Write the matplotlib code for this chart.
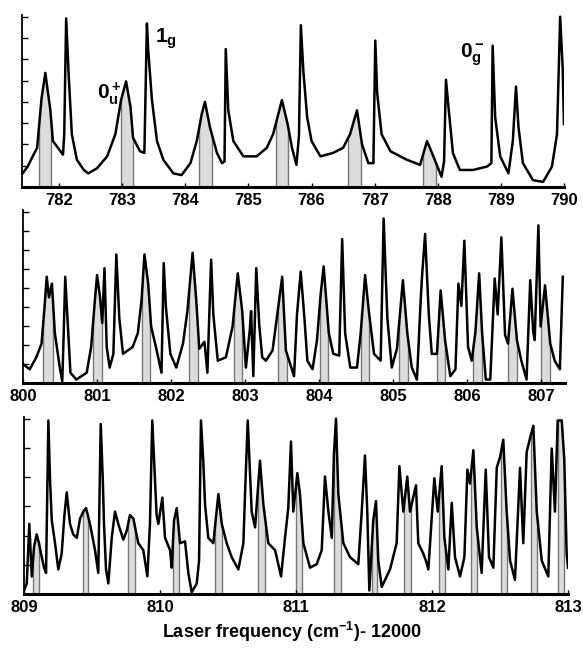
import matplotlib
matplotlib.use("Agg")
import matplotlib.pyplot as plt

plt.rcParams['font.family'] = ['Liberation Sans', 'DejaVu Sans']
plt.rcParams['font.weight'] = 'bold'
plt.rcParams['mathtext.fontset'] = 'custom'
plt.rcParams['mathtext.rm'] = 'Liberation Sans:bold'
plt.rcParams['mathtext.it'] = 'Liberation Sans:bold'
plt.rcParams['mathtext.bf'] = 'Liberation Sans:bold'

# --- panneau 1 : 781.4 - 790 ---
x1 = [781.42, 781.50, 781.58, 781.65, 781.72, 781.78, 781.86, 781.90, 781.98, 782.06,
      782.08, 782.11, 782.15, 782.20, 782.28, 782.39, 782.46, 782.60, 782.76, 782.89,
      782.98, 783.06, 783.13, 783.17, 783.28, 783.35, 783.39, 783.41, 783.47, 783.55,
      783.65, 783.81, 783.94, 784.08, 784.18, 784.26, 784.31, 784.39, 784.50, 784.58,
      784.62, 784.64, 784.68, 784.76, 784.92, 785.13, 785.29, 785.39, 785.53, 785.62,
      785.69, 785.76, 785.80, 785.83, 785.87, 785.93, 786.00, 786.14, 786.34, 786.50,
      786.61, 786.72, 786.80, 786.90, 786.98, 787.01, 787.04, 787.11, 787.25, 787.51,
      787.72, 787.83, 787.93, 788.06, 788.10, 788.13, 788.17, 788.24, 788.35, 788.56,
      788.78, 788.85, 788.87, 788.91, 788.99, 789.12, 789.19, 789.24, 789.28, 789.35,
      789.51, 789.67, 789.81, 789.89, 789.94, 789.98, 790.00]
y1 = [8, 12, 18, 23, 52, 67, 45, 27, 23, 19,
      31, 99, 66, 31, 16, 10, 8, 11, 18, 31,
      51, 62, 47, 29, 21, 20, 96, 81, 51, 27,
      16, 8, 7, 14, 27, 43, 50, 35, 20, 14,
      15, 81, 45, 27, 18, 18, 23, 31, 51, 37,
      23, 13, 30, 95, 68, 41, 27, 18, 20, 23,
      31, 45, 25, 14, 14, 86, 55, 31, 21, 16,
      13, 27, 18, 6, 15, 63, 47, 20, 10, 10,
      12, 14, 83, 41, 18, 8, 27, 59, 35, 14,
      4, 3, 12, 31, 100, 70, 37]
bandes1 = [(781.68, 781.87), (782.98, 783.17), (784.22, 784.42),
           (785.43, 785.63), (786.58, 786.79), (787.77, 787.97)]
ticks1 = [782, 783, 784, 785, 786, 787, 788, 789, 790]

# --- panneau 2 : 800 - 807.3 ---
x2 = [800.00, 800.09, 800.18, 800.25, 800.29, 800.32, 800.35, 800.39, 800.43, 800.50,
      800.53, 800.55, 800.57, 800.60, 800.64, 800.72, 800.86, 800.92, 800.97, 801.00,
      801.04, 801.07, 801.10, 801.13, 801.17, 801.22, 801.26, 801.30, 801.35, 801.48,
      801.55, 801.60, 801.64, 801.69, 801.73, 801.80, 801.87, 801.90, 801.93, 801.99,
      802.07, 802.16, 802.22, 802.29, 802.34, 802.38, 802.45, 802.49, 802.54, 802.57,
      802.63, 802.74, 802.83, 802.90, 802.96, 803.01, 803.06, 803.08, 803.11, 803.15,
      803.19, 803.23, 803.28, 803.37, 803.44, 803.50, 803.55, 803.66, 803.70, 803.75,
      803.80, 803.84, 803.91, 803.97, 804.02, 804.06, 804.13, 804.19, 804.27, 804.31,
      804.35, 804.42, 804.51, 804.56, 804.62, 804.67, 804.74, 804.83, 804.87, 804.92,
      804.98, 805.05, 805.13, 805.19, 805.25, 805.32, 805.37, 805.39, 805.43, 805.48,
      805.52, 805.59, 805.64, 805.70, 805.77, 805.84, 805.88, 805.92, 805.96, 806.01,
      806.06, 806.11, 806.16, 806.20, 806.25, 806.31, 806.37, 806.41, 806.46, 806.51,
      806.55, 806.61, 806.67, 806.73, 806.80, 806.85, 806.89, 806.91, 806.96, 806.99,
      807.05, 807.12, 807.18, 807.25, 807.29]
y2 = [11, 8, 15, 23, 44, 62, 50, 58, 29, 8,
      1, 30, 62, 38, 6, 2, 6, 21, 48, 63,
      50, 35, 67, 21, 9, 17, 75, 38, 17, 21,
      29, 48, 75, 58, 33, 20, 6, 70, 44, 17,
      9, 23, 42, 76, 48, 20, 24, 6, 72, 40,
      13, 15, 33, 64, 42, 9, 30, 42, 4, 67,
      34, 15, 13, 19, 42, 62, 19, 4, 40, 65,
      38, 13, 8, 25, 52, 68, 29, 17, 16, 84,
      29, 9, 9, 29, 63, 42, 17, 13, 96, 38,
      9, 20, 60, 29, 9, 2, 48, 63, 87, 40,
      17, 17, 54, 25, 4, 8, 58, 45, 83, 21,
      13, 30, 64, 29, 2, 2, 61, 40, 85, 28,
      23, 55, 25, 13, 2, 60, 30, 25, 92, 33,
      57, 23, 13, 8, 62]
bandes2 = [(800.27, 800.40), (800.95, 801.06), (801.60, 801.71), (802.24, 802.36),
           (802.85, 802.96), (803.44, 803.56), (804.01, 804.12), (804.56, 804.67),
           (805.08, 805.20), (805.59, 805.70), (806.08, 806.20), (806.55, 806.67),
           (807.00, 807.12)]
ticks2 = [800, 801, 802, 803, 804, 805, 806, 807]

# --- panneau 3 : 809 - 813 ---
x3 = [809.000, 809.020, 809.039, 809.057, 809.074, 809.093, 809.110, 809.125, 809.147, 809.162,
      809.179, 809.191, 809.204, 809.228, 809.252, 809.277, 809.296, 809.314, 809.338, 809.362,
      809.388, 809.412, 809.436, 809.456, 809.485, 809.522, 809.546, 809.564, 809.579, 809.588,
      809.603, 809.620, 809.645, 809.669, 809.693, 809.730, 809.755, 809.779, 809.804, 809.840,
      809.877, 809.907, 809.926, 809.943, 809.960, 809.975, 809.988, 810.017, 810.037, 810.074,
      810.086, 810.103, 810.123, 810.147, 810.184, 810.208, 810.233, 810.270, 810.287, 810.301,
      810.318, 810.331, 810.355, 810.392, 810.429, 810.454, 810.490, 810.527, 810.576, 810.613,
      810.625, 810.645, 810.674, 810.699, 810.735, 810.760, 810.796, 810.846, 810.890, 810.919,
      810.943, 810.963, 810.980, 811.010, 811.029, 811.054, 811.103, 811.152, 811.189, 811.213,
      811.238, 811.263, 811.279, 811.294, 811.311, 811.348, 811.397, 811.458, 811.483, 811.507,
      811.524, 811.539, 811.568, 811.588, 811.605, 811.630, 811.691, 811.740, 811.760, 811.789,
      811.818, 811.838, 811.882, 811.899, 811.936, 811.955, 811.973, 811.998, 812.017, 812.042,
      812.071, 812.091, 812.120, 812.145, 812.169, 812.206, 812.238, 812.260, 812.279, 812.304,
      812.329, 812.365, 812.395, 812.419, 812.451, 812.476, 812.500, 812.524, 812.549, 812.574,
      812.610, 812.647, 812.671, 812.696, 812.721, 812.745, 812.770, 812.807, 812.855, 812.880,
      812.904, 812.924, 812.954, 812.973, 812.990, 813.000]
y3 = [2, 6, 40, 10, 27, 34, 29, 23, 15, 12,
      99, 66, 42, 29, 14, 23, 44, 58, 40, 34,
      32, 43, 47, 49, 40, 25, 12, 97, 66, 40,
      14, 6, 32, 47, 40, 31, 36, 45, 43, 29,
      25, 10, 40, 99, 70, 45, 40, 55, 32, 25,
      15, 42, 49, 29, 30, 12, 1, 6, 19, 99,
      76, 51, 32, 29, 57, 40, 29, 21, 14, 29,
      57, 99, 47, 38, 76, 51, 29, 25, 10, 32,
      49, 87, 47, 69, 57, 29, 15, 17, 25, 67,
      47, 32, 80, 100, 57, 29, 21, 17, 47, 79,
      47, 2, 42, 53, 19, 4, 14, 29, 73, 47,
      67, 47, 62, 29, 23, 19, 14, 44, 66, 47,
      73, 32, 14, 52, 21, 10, 21, 71, 63, 82,
      38, 12, 71, 21, 15, 72, 78, 88, 47, 19,
      8, 72, 29, 81, 89, 96, 47, 19, 10, 83,
      47, 99, 99, 76, 23, 15]
bandes3 = [(809.064, 809.113), (809.431, 809.473), (809.767, 809.816), (810.098, 810.142),
           (810.404, 810.454), (810.723, 810.772), (811.000, 811.042), (811.282, 811.329),
           (811.557, 811.598), (811.796, 811.843), (812.051, 812.096), (812.284, 812.329),
           (812.505, 812.549), (812.726, 812.770), (812.929, 812.971)]
ticks3 = [809, 810, 811, 812, 813]

panneaux = [
    (x1, y1, bandes1, ticks1, (781.41, 790.0), 8, [0.0377, 0.7123, 0.9296, 0.2646]),
    (x2, y2, bandes2, ticks2, (800.0, 807.32), 9, [0.0395, 0.4108, 0.9297, 0.2662]),
    (x3, y3, bandes3, ticks3, (809.0, 813.0), 6, [0.0412, 0.0862, 0.9331, 0.2723]),
]

fig = plt.figure(figsize=(5.83, 6.5), dpi=100)
axes = []
for x, y, bandes, ticks, lim, ndiv, pos in panneaux:
    ax = fig.add_axes(pos)
    # zone sous la courbe, sert de masque pour les bandes grises
    masque = ax.fill_between(x, 0, y, facecolor='none', linewidth=0)
    chemin = masque.get_paths()[0]
    for a, b in bandes:
        sp = ax.axvspan(a, b, facecolor='#dcdcdc', edgecolor='none', zorder=1)
        sp.set_clip_path(chemin, ax.transData)
        vl = ax.vlines([a, b], 0, 100, colors='#777777', linewidth=1.0, zorder=1.5)
        vl.set_clip_path(chemin, ax.transData)
    ax.plot(x, y, color='black', linewidth=1.8, solid_joinstyle='round', zorder=2)
    ax.set_xlim(*lim)
    ax.set_ylim(0, 101)
    ax.set_xticks(ticks)
    ax.set_yticks([100.0 * i / ndiv for i in range(ndiv + 1)])
    ax.set_yticklabels([])
    ax.tick_params(axis='y', direction='in', length=4, width=1)
    ax.tick_params(axis='x', direction='in', length=3, width=1, labelsize=12, pad=4)
    for lab in ax.get_xticklabels():
        lab.set_fontweight('bold')
    ax.spines['top'].set_visible(False)
    ax.spines['right'].set_visible(False)
    ax.spines['bottom'].set_linewidth(2.2)
    ax.spines['left'].set_linewidth(1.3)
    axes.append(ax)

ax1 = axes[0]
ax1.text(783.52, 87, r'$1_g$', fontsize=15, va='center', ha='left')
ax1.text(782.60, 55, r'$0_u^+$', fontsize=15, va='center', ha='left')
ax1.text(788.35, 78, r'$0_g^-$', fontsize=15, va='center', ha='left')

fig.text(0.5, 0.028, r'Laser frequency (cm$^{-1}$)- 12000', ha='center', va='center',
         fontsize=13, fontweight='bold')

plt.savefig("out.png", dpi=100)
